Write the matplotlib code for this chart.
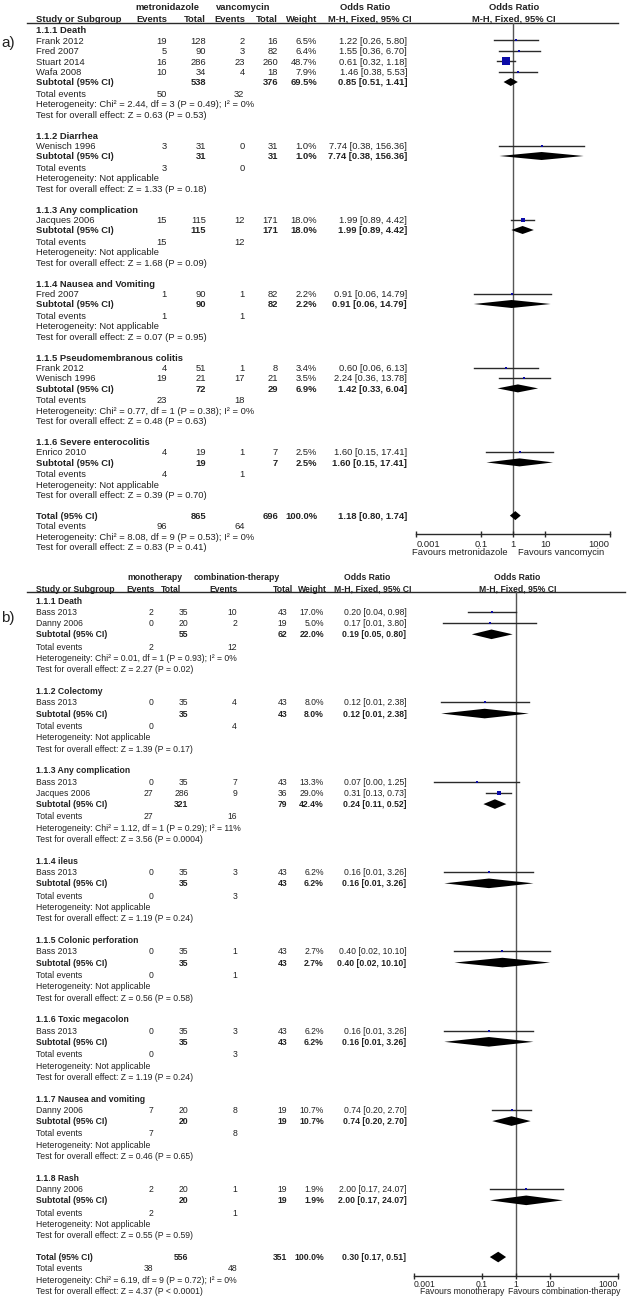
import matplotlib.pyplot as plt
from matplotlib.ticker import NullLocator

# fonte parecida com Arial (metricas iguais)
plt.rcParams['font.family'] = ['Liberation Sans', 'DejaVu Sans']

W, H, DPI = 628, 1301, 100
TXT = '#222222'
LINE = '#2a2a2a'
BLUE = '#0c0ca8'

# ---------------- painel a) metronidazole x vancomycin ----------------
a_arms = ["metronidazole", "vancomycin"]
a_favours = ["Favours metronidazole", "Favours vancomycin"]
a_groups = ["1.1.1 Death", "1.1.2 Diarrhea", "1.1.3 Any complication",
            "1.1.4 Nausea and Vomiting", "1.1.5 Pseudomembranous colitis",
            "1.1.6 Severe enterocolitis"]
a_group_of = [0, 0, 0, 0, 1, 2, 3, 4, 4, 5]
a_study = ["Frank 2012", "Fred 2007", "Stuart 2014", "Wafa 2008", "Wenisch 1996",
           "Jacques 2006", "Fred 2007", "Frank 2012", "Wenisch 1996", "Enrico 2010"]
a_ev1 = [19, 5, 16, 10, 3, 15, 1, 4, 19, 4]
a_tot1 = [128, 90, 286, 34, 31, 115, 90, 51, 21, 19]
a_ev2 = [2, 3, 23, 4, 0, 12, 1, 1, 17, 1]
a_tot2 = [16, 82, 260, 18, 31, 171, 82, 8, 21, 7]
a_weight = [6.5, 6.4, 48.7, 7.9, 1.0, 18.0, 2.2, 3.4, 3.5, 2.5]
a_or = [1.22, 1.55, 0.61, 1.46, 7.74, 1.99, 0.91, 0.60, 2.24, 1.60]
a_lo = [0.26, 0.36, 0.32, 0.38, 0.38, 0.89, 0.06, 0.06, 0.36, 0.15]
a_hi = [5.80, 6.70, 1.18, 5.53, 156.36, 4.42, 14.79, 6.13, 13.78, 17.41]

a_sub_tot1 = [538, 31, 115, 90, 72, 19]
a_sub_tot2 = [376, 31, 171, 82, 29, 7]
a_sub_weight = [69.5, 1.0, 18.0, 2.2, 6.9, 2.5]
a_sub_or = [0.85, 7.74, 1.99, 0.91, 1.42, 1.60]
a_sub_lo = [0.51, 0.38, 0.89, 0.06, 0.33, 0.15]
a_sub_hi = [1.41, 156.36, 4.42, 14.79, 6.04, 17.41]
a_sub_ev1 = [50, 3, 15, 1, 23, 4]
a_sub_ev2 = [32, 0, 12, 1, 18, 1]
a_het = ["Chi² = 2.44, df = 3 (P = 0.49); I² = 0%", "Not applicable",
         "Not applicable", "Not applicable",
         "Chi² = 0.77, df = 1 (P = 0.38); I² = 0%", "Not applicable"]
a_z = ["Z = 0.63 (P = 0.53)", "Z = 1.33 (P = 0.18)", "Z = 1.68 (P = 0.09)",
       "Z = 0.07 (P = 0.95)", "Z = 0.48 (P = 0.63)", "Z = 0.39 (P = 0.70)"]

a_all = [865, 696, 100.0, 1.18, 0.80, 1.74, 96, 64]
a_all_het = "Chi² = 8.08, df = 9 (P = 0.53); I² = 0%"
a_all_z = "Z = 0.83 (P = 0.41)"

# ---------------- painel b) monoterapia x combinacao ----------------
b_arms = ["monotherapy", "combination-therapy"]
b_favours = ["Favours monotherapy", "Favours combination-therapy"]
b_groups = ["1.1.1 Death", "1.1.2 Colectomy", "1.1.3 Any complication",
            "1.1.4 ileus", "1.1.5 Colonic perforation", "1.1.6 Toxic megacolon",
            "1.1.7 Nausea and vomiting", "1.1.8 Rash"]
b_group_of = [0, 0, 1, 2, 2, 3, 4, 5, 6, 7]
b_study = ["Bass 2013", "Danny 2006", "Bass 2013", "Bass 2013", "Jacques 2006",
           "Bass 2013", "Bass 2013", "Bass 2013", "Danny 2006", "Danny 2006"]
b_ev1 = [2, 0, 0, 0, 27, 0, 0, 0, 7, 2]
b_tot1 = [35, 20, 35, 35, 286, 35, 35, 35, 20, 20]
b_ev2 = [10, 2, 4, 7, 9, 3, 1, 3, 8, 1]
b_tot2 = [43, 19, 43, 43, 36, 43, 43, 43, 19, 19]
b_weight = [17.0, 5.0, 8.0, 13.3, 29.0, 6.2, 2.7, 6.2, 10.7, 1.9]
b_or = [0.20, 0.17, 0.12, 0.07, 0.31, 0.16, 0.40, 0.16, 0.74, 2.00]
b_lo = [0.04, 0.0073, 0.0063, 0.004, 0.13, 0.0078, 0.0154, 0.0078, 0.20, 0.17]
b_hi = [0.98, 3.80, 2.38, 1.25, 0.73, 3.26, 10.10, 3.26, 2.70, 24.07]

b_sub_tot1 = [55, 35, 321, 35, 35, 35, 20, 20]
b_sub_tot2 = [62, 43, 79, 43, 43, 43, 19, 19]
b_sub_weight = [22.0, 8.0, 42.4, 6.2, 2.7, 6.2, 10.7, 1.9]
b_sub_or = [0.19, 0.12, 0.24, 0.16, 0.40, 0.16, 0.74, 2.00]
b_sub_lo = [0.05, 0.0063, 0.11, 0.0078, 0.0154, 0.0078, 0.20, 0.17]
b_sub_hi = [0.80, 2.38, 0.52, 3.26, 10.10, 3.26, 2.70, 24.07]
b_sub_ev1 = [2, 0, 27, 0, 0, 0, 7, 2]
b_sub_ev2 = [12, 4, 16, 3, 1, 3, 8, 1]
b_het = ["Chi² = 0.01, df = 1 (P = 0.93); I² = 0%", "Not applicable",
         "Chi² = 1.12, df = 1 (P = 0.29); I² = 11%", "Not applicable",
         "Not applicable", "Not applicable", "Not applicable", "Not applicable"]
b_z = ["Z = 2.27 (P = 0.02)", "Z = 1.39 (P = 0.17)", "Z = 3.56 (P = 0.0004)",
       "Z = 1.19 (P = 0.24)", "Z = 0.56 (P = 0.58)", "Z = 1.19 (P = 0.24)",
       "Z = 0.46 (P = 0.65)", "Z = 0.55 (P = 0.59)"]

b_all = [556, 351, 100.0, 0.30, 0.17, 0.51, 38, 48]
b_all_het = "Chi² = 6.19, df = 9 (P = 0.72); I² = 0%"
b_all_z = "Z = 4.37 (P < 0.0001)"

tick_vals = [0.001, 0.1, 1, 10, 1000]
tick_text = ["0.001", "0.1", "1", "10", "1000"]


def put(ax, x, y, s, fs, ha='left', bold=False):
    # y eh o centro visual da linha em pixels (eixo invertido)
    ax.text(x, y + 0.36 * fs, s, ha=ha, va='baseline', fontsize=fs * 72 / DPI,
            fontweight='bold' if bold else 'normal', color=TXT)


def ci_text(o, lo, hi):
    return f"{o:.2f} [{lo:.2f}, {hi:.2f}]"


def forest_axes(fig, lay, fs):
    x0, x1 = lay['fx']
    yt, yb = lay['fy']
    ax = fig.add_axes([x0 / W, 1 - yb / H, (x1 - x0) / W, (yb - yt) / H])
    ax.patch.set_alpha(0)
    ax.set_xscale('log')
    ax.set_xlim(0.001, 1000)
    ax.set_ylim(yb, yt)
    for s in ['top', 'left', 'right']:
        ax.spines[s].set_visible(False)
    ax.spines['bottom'].set_color(LINE)
    ax.spines['bottom'].set_linewidth(1)
    ax.set_yticks([])
    ax.set_xticks(tick_vals)
    ax.set_xticklabels(tick_text)
    ax.xaxis.set_minor_locator(NullLocator())
    ax.tick_params(axis='x', direction='inout', length=5, width=1, pad=lay['pad'],
                   labelsize=fs * 72 / DPI, colors=LINE, labelcolor=TXT)
    # rotulos das pontas ficam pra dentro do eixo, igual ao RevMan
    labels = ax.get_xticklabels()
    labels[0].set_ha('left')
    labels[-1].set_ha('right')
    ax.axvline(1, color='#555555', lw=1, zorder=1)
    return ax


def diamond(ax, o, lo, hi, y, h):
    ax.fill([lo, o, hi, o], [y, y - h, y, y + h], color='black', lw=0, zorder=3)


def draw_panel(fig, cv, p, lay):
    fs = lay['fs']
    fax = forest_axes(fig, lay, fs)
    c = lay['cols']

    # cabecalho
    yh1, yh2, yl = lay['head']
    put(cv, c['arm1'], yh1, p['arms'][0], fs, ha='center', bold=True)
    put(cv, c['arm2'], yh1, p['arms'][1], fs, ha='center', bold=True)
    put(cv, c['or1'], yh1, "Odds Ratio", fs, ha='center', bold=True)
    put(cv, c['or2'], yh1, "Odds Ratio", fs, ha='center', bold=True)
    put(cv, c['lab'], yh2, "Study or Subgroup", fs, bold=True)
    for key, s in [('h_ev1', "Events"), ('h_tot1', "Total"), ('h_ev2', "Events"),
                   ('h_tot2', "Total"), ('h_w', "Weight")]:
        put(cv, c[key], yh2, s, fs, ha='right', bold=True)
    put(cv, c['mh1'], yh2, "M-H, Fixed, 95% CI", fs, ha='center', bold=True)
    put(cv, c['mh2'], yh2, "M-H, Fixed, 95% CI", fs, ha='center', bold=True)
    cv.plot(lay['hline'], [yl, yl], color=LINE, lw=1)
    cv.text(lay['tag'][0], lay['tag'][1], lay['tag'][2], fontsize=11, color=TXT,
            ha='left', va='baseline')

    def data_row(y, lab, e1, t1, e2, t2, w, o, lo, hi, bold):
        put(cv, c['lab'], y, lab, fs, bold=bold)
        if e1 is not None:
            put(cv, c['ev1'], y, str(e1), fs, ha='right')
            put(cv, c['ev2'], y, str(e2), fs, ha='right')
        put(cv, c['tot1'], y, str(t1), fs, ha='right', bold=bold)
        put(cv, c['tot2'], y, str(t2), fs, ha='right', bold=bold)
        put(cv, c['w'], y, f"{w:.1f}%", fs, ha='right', bold=bold)
        put(cv, c['ort'], y, ci_text(o, lo, hi), fs, ha='right', bold=bold)

    def footer(y, e1, e2, het, z):
        put(cv, c['lab'], y, "Total events", fs)
        put(cv, c['ev1'], y, str(e1), fs, ha='right')
        put(cv, c['ev2'], y, str(e2), fs, ha='right')
        y += lay['step']
        put(cv, c['lab'], y, "Heterogeneity: " + het, fs)
        y += lay['step']
        put(cv, c['lab'], y, "Test for overall effect: " + z, fs)
        return y

    y = lay['y0']
    for g, name in enumerate(p['groups']):
        put(cv, c['lab'], y, name, fs, bold=True)
        for i, gg in enumerate(p['group_of']):
            if gg != g:
                continue
            y += lay['step']
            data_row(y, p['study'][i], p['ev1'][i], p['tot1'][i], p['ev2'][i],
                     p['tot2'][i], p['weight'][i], p['or'][i], p['lo'][i], p['hi'][i], False)
            fax.plot([p['lo'][i], p['hi'][i]], [y, y], color=LINE, lw=1, zorder=2)
            side = max(2.3, lay['msk'] * p['weight'][i])
            fax.plot([p['or'][i]], [y], 's', color=BLUE, ms=side * 72 / DPI, mew=0, zorder=4)
        y += lay['step']
        data_row(y, "Subtotal (95% CI)", None, p['sub_tot1'][g], None, p['sub_tot2'][g],
                 p['sub_weight'][g], p['sub_or'][g], p['sub_lo'][g], p['sub_hi'][g], True)
        diamond(fax, p['sub_or'][g], p['sub_lo'][g], p['sub_hi'][g], y, lay['dh'])
        y += lay['step'] + lay['extra']
        y = footer(y, p['sub_ev1'][g], p['sub_ev2'][g], p['het'][g], p['z'][g])
        y += lay['gap']

    t1, t2, w, o, lo, hi, e1, e2 = p['all']
    data_row(y, "Total (95% CI)", None, t1, None, t2, w, o, lo, hi, True)
    diamond(fax, o, lo, hi, y, lay['dh'] + 0.5)
    y += lay['step']
    footer(y, e1, e2, p['all_het'], p['all_z'])

    fy = lay['fav']
    put(cv, fy[0], fy[2], p['favours'][0], fs, ha='right')
    put(cv, fy[1], fy[2], p['favours'][1], fs, ha='left')


panel_a = dict(arms=a_arms, favours=a_favours, groups=a_groups, group_of=a_group_of,
               study=a_study, ev1=a_ev1, tot1=a_tot1, ev2=a_ev2, tot2=a_tot2,
               weight=a_weight, lo=a_lo, hi=a_hi, sub_tot1=a_sub_tot1,
               sub_tot2=a_sub_tot2, sub_weight=a_sub_weight, sub_or=a_sub_or,
               sub_lo=a_sub_lo, sub_hi=a_sub_hi, sub_ev1=a_sub_ev1, sub_ev2=a_sub_ev2,
               het=a_het, z=a_z, all=a_all, all_het=a_all_het, all_z=a_all_z)
panel_a['or'] = a_or
panel_b = dict(arms=b_arms, favours=b_favours, groups=b_groups, group_of=b_group_of,
               study=b_study, ev1=b_ev1, tot1=b_tot1, ev2=b_ev2, tot2=b_tot2,
               weight=b_weight, lo=b_lo, hi=b_hi, sub_tot1=b_sub_tot1,
               sub_tot2=b_sub_tot2, sub_weight=b_sub_weight, sub_or=b_sub_or,
               sub_lo=b_sub_lo, sub_hi=b_sub_hi, sub_ev1=b_sub_ev1, sub_ev2=b_sub_ev2,
               het=b_het, z=b_z, all=b_all, all_het=b_all_het, all_z=b_all_z)
panel_b['or'] = b_or

lay_a = dict(fs=9.35, y0=30.0, step=10.4, extra=1.0, gap=21.0, dh=4.0, msk=0.17, pad=1.5,
             fx=(416.4, 609.6), fy=(22.5, 534), head=(7, 18.5, 22.5),
             hline=[27, 618], tag=(1, 47, "a)"), fav=(507, 518, 552),
             cols=dict(lab=35.7, ev1=167, tot1=206, ev2=244.5, tot2=278, w=317, ort=407,
                       h_ev1=167, h_tot1=206, h_ev2=245, h_tot2=278, h_w=317,
                       arm1=167.5, arm2=243, or1=365, or2=514, mh1=370, mh2=513.5))
lay_b = dict(fs=8.7, y0=600.5, step=11.27, extra=1.0, gap=21.9, dh=4.8, msk=0.16, pad=0.5,
             fx=(414, 618), fy=(592, 1276), head=(577, 588.5, 592),
             hline=[27, 625], tag=(1, 622, "b)"), fav=(504, 508, 1291),
             cols=dict(lab=35.7, ev1=153.5, tot1=188.5, ev2=237, tot2=287, w=324, ort=406.5,
                       h_ev1=155, h_tot1=181, h_ev2=238, h_tot2=293, h_w=327,
                       arm1=155, arm2=237, or1=367, or2=517, mh1=372.5, mh2=518))

fig = plt.figure(figsize=(W / DPI, H / DPI), dpi=DPI)
cv = fig.add_axes([0, 0, 1, 1])
cv.set_xlim(0, W)
cv.set_ylim(H, 0)
cv.axis('off')

draw_panel(fig, cv, panel_a, lay_a)
draw_panel(fig, cv, panel_b, lay_b)

fig.savefig("out.png", dpi=DPI, facecolor='white')
plt.close(fig)
